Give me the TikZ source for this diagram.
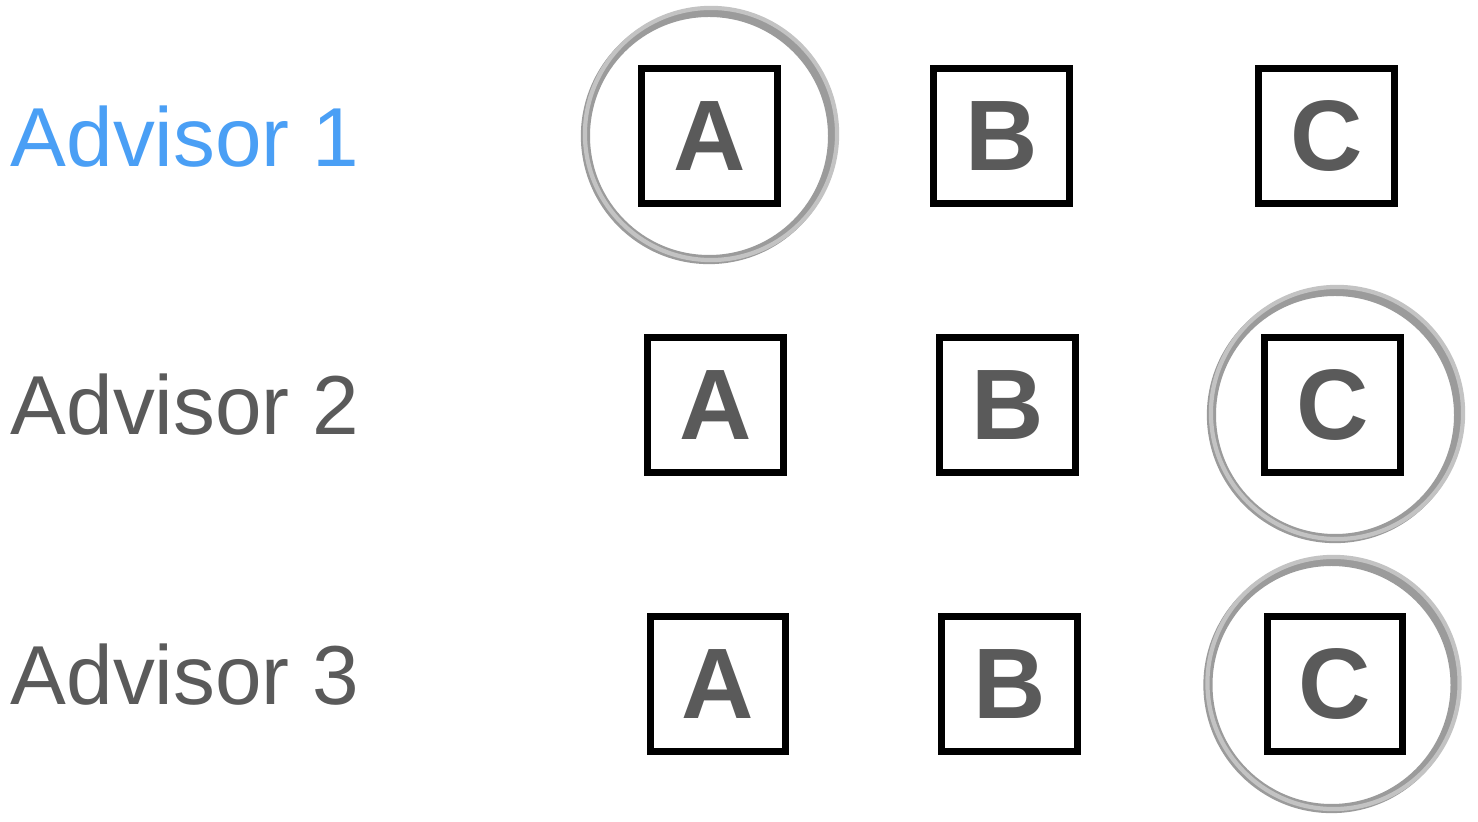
\documentclass[tikz,border=0pt]{standalone}
\usepackage{fontspec}
\setmainfont{Liberation Sans}
\definecolor{advblue}{RGB}{74,159,245}
\definecolor{txtgray}{RGB}{90,90,90}
\definecolor{brushgray}{RGB}{155,155,155}
\tikzset{
  advisor/.style={anchor=base west, inner sep=0pt, font=\fontsize{23.8}{24}\selectfont, text=txtgray},
  optbox/.style={draw=black, line width=2pt, minimum size=1.355cm, inner sep=0pt,
    font=\fontsize{28.5}{28}\selectfont\bfseries, text=txtgray},
  pick/.style={circle, draw=brushgray, line width=2.6pt, minimum size=2.47cm, inner sep=0pt},
  pickfaint/.style={circle, draw=brushgray!60, line width=1.2pt, minimum size=2.52cm, inner sep=0pt}
}
\begin{document}
\begin{tikzpicture}[x=0.01cm, y=-0.01cm]
        \useasboundingbox (0,0) rectangle (1478,822);

        % Advisors
        \node[advisor, text=advblue] (adv1) at (10,167) {Advisor 1};
        \node[advisor] (adv2) at (10,435) {Advisor 2};
        \node[advisor] (adv3) at (10,705) {Advisor 3};

        % Options - Advisor 1
        \node[optbox] (a1) at (709.5,136) {A};
        \node[optbox] (b1) at (1001.5,136) {B};
        \node[optbox] (c1) at (1326.5,136) {C};

        % Options - Advisor 2
        \node[optbox] (a2) at (715.5,405) {A};
        \node[optbox] (b2) at (1007.5,405) {B};
        \node[optbox] (c2) at (1332.5,405) {C};

        % Options - Advisor 3
        \node[optbox] (a3) at (718,684) {A};
        \node[optbox] (b3) at (1009.5,684) {B};
        \node[optbox] (c3) at (1335,684) {C};

        % Choices (brush circles)
        \node[pick] (pick1) at (709,136) {};
        \node[pickfaint] at (711,134) {};
        \node[pick] (pick2) at (1335,415) {};
        \node[pickfaint] at (1337,413) {};
        \node[pick] (pick3) at (1331.5,685) {};
        \node[pickfaint] at (1333.5,683) {};
    \end{tikzpicture}
\end{document}
